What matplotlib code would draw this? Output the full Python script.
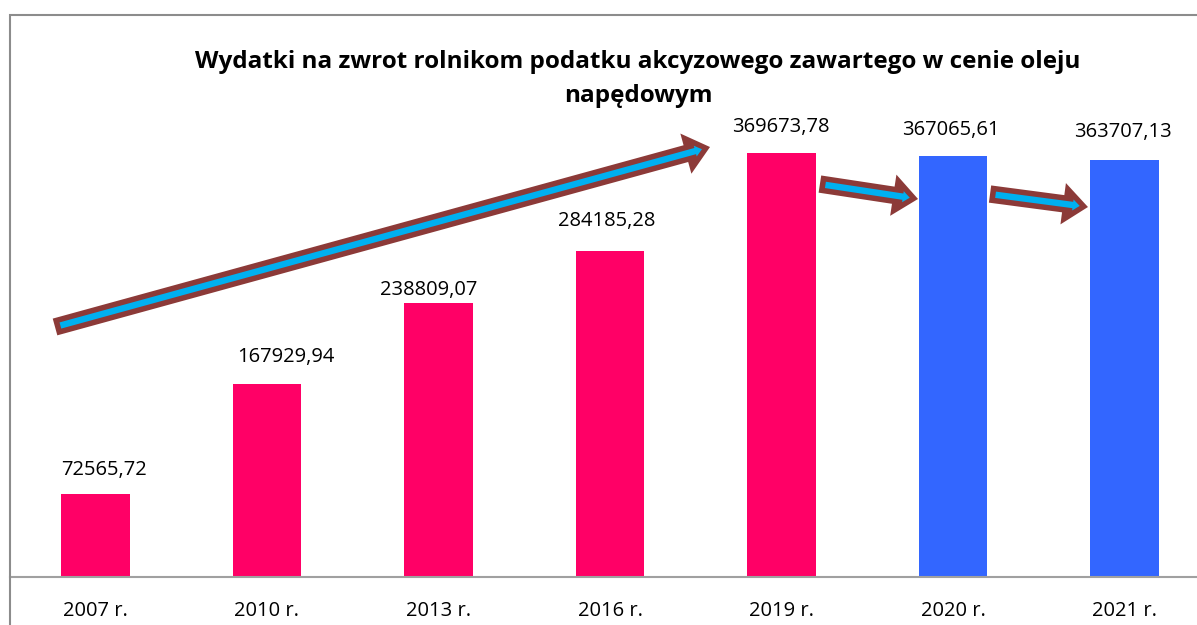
import matplotlib
matplotlib.use("Agg")
import matplotlib.pyplot as plt
from matplotlib.patches import FancyArrowPatch, Rectangle

plt.rcParams['font.family'] = ['Open Sans', 'DejaVu Sans']

years = ['2007 r.', '2010 r.', '2013 r.', '2016 r.', '2019 r.', '2020 r.', '2021 r.']
values = [72565.72, 167929.94, 238809.07, 284185.28, 369673.78, 367065.61, 363707.13]
labels = ['72565,72', '167929,94', '238809,07', '284185,28', '369673,78', '367065,61', '363707,13']
# label nudges in pixels (dx, dy) as placed in the original
label_off = [(8, 24), (19, 27), (-10, 13), (-3, 30), (-1, 26), (-2, 26), (-2, 28)]

PINK = '#FF0066'
BLUE = '#3366FF'
BROWN = '#8C3A38'
CYAN = '#00B0F0'

W, H = 1197, 625
fig = plt.figure(figsize=(W / 100, H / 100), dpi=100)

# chart area border (runs off the right/bottom of the picture)
fig.patches.append(Rectangle((10 / W, -0.1), 1.2, (H - 15) / H + 0.1,
                             transform=fig.transFigure, fill=False,
                             edgecolor='#8C8C8C', linewidth=1.5))

ax = fig.add_axes([10 / W, 48 / H, (W - 10) / W, (577 - 15) / H])
x = list(range(len(years)))
colors = [PINK] * 5 + [BLUE] * 2
ax.bar(x, values, width=0.4, color=colors)

ax.set_xlim((10 - 95.5) / 171.5, (W - 95.5) / 171.5)
ax.set_ylim(0, 562 * 871.9)
ax.set_yticks([])
ax.set_xticks(x)
ax.set_xticklabels(years, fontsize=14.5)
ax.tick_params(axis='x', length=0, pad=17)
for s in ['left', 'right', 'top']:
    ax.spines[s].set_visible(False)
ax.spines['bottom'].set_color('#A0A0A0')
ax.spines['bottom'].set_linewidth(1.5)

for i, (v, lab) in enumerate(zip(values, labels)):
    dx, dy = label_off[i]
    ax.annotate(lab, (i, v), xytext=(dx, dy), textcoords='offset pixels',
                ha='center', va='center', fontsize=14.5)

# trend arrows
def arrow(p0, p1):
    a = FancyArrowPatch(p0, p1, arrowstyle='simple,head_width=30,head_length=18,tail_width=12.5',
                        color=BROWN, linewidth=0, shrinkA=0, shrinkB=0, zorder=3)
    ax.add_patch(a)
    b = FancyArrowPatch(p0, p1, arrowstyle='simple,head_width=8,head_length=5,tail_width=4.6',
                        color=CYAN, linewidth=0, shrinkA=4, shrinkB=6, zorder=4)
    ax.add_patch(b)

arrow((-0.236, 218000), (3.583, 374900))
arrow((4.224, 342600), (4.796, 329600))
arrow((5.216, 333900), (5.787, 322600))

fig.text(638 / W, 1 - 79 / H,
         'Wydatki na zwrot rolnikom podatku akcyzowego zawartego w cenie oleju\nnapędowym',
         ha='center', va='center', fontsize=17.5, fontweight='bold', linespacing=1.6)

fig.savefig('out.png', dpi=100)
